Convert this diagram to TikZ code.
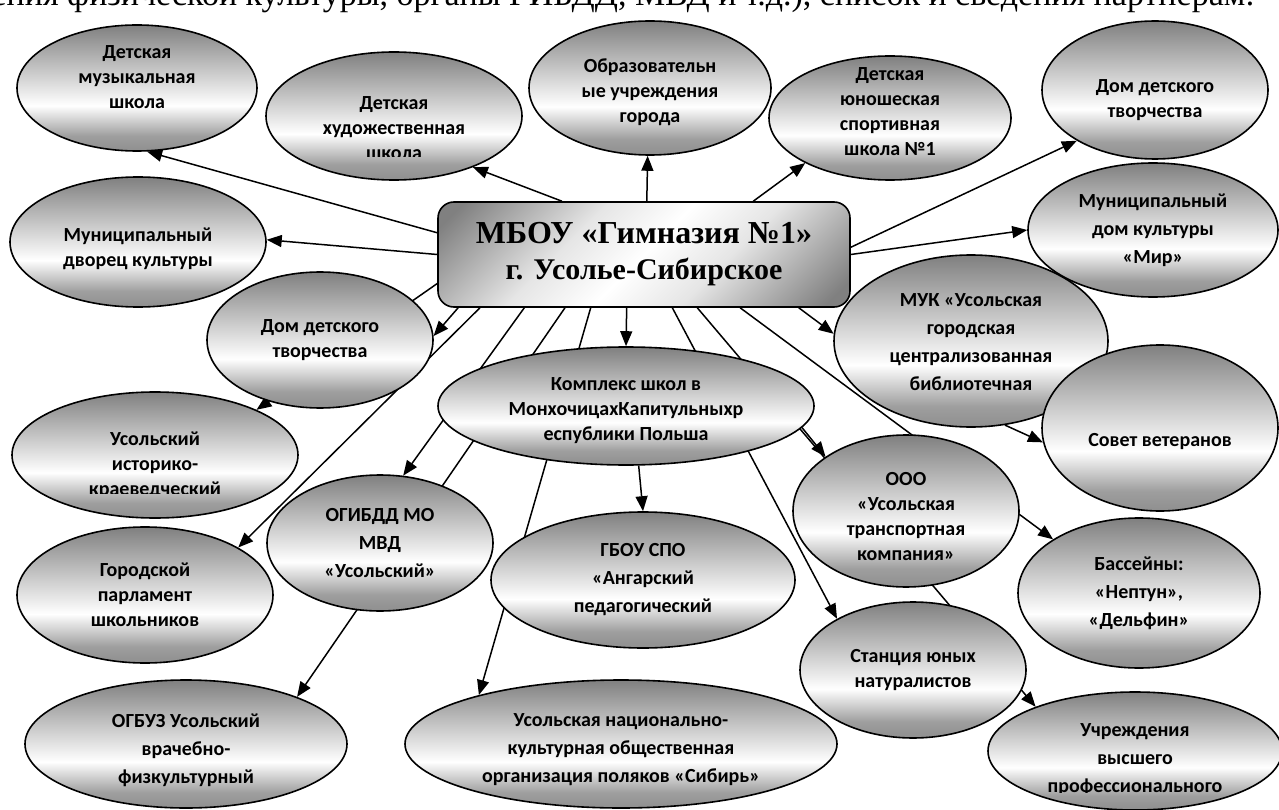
\documentclass[tikz,border=0pt]{standalone}
\usepackage{fontspec}
\setmainfont{Carlito}
\newfontfamily\timesfont{Liberation Serif}
\usetikzlibrary{arrows.meta,shapes.geometric,backgrounds}

\definecolor{shadedark}{gray}{0.50}
\definecolor{shademid}{gray}{0.62}
\definecolor{shadelow}{gray}{0.56}
\definecolor{shadepale}{gray}{0.90}
\pgfdeclareverticalshading{bubbleshade}{100bp}{color(0bp)=(shadelow); color(25bp)=(shadelow); color(31bp)=(shademid); color(43bp)=(white); color(75bp)=(shadedark); color(100bp)=(shadedark)}
\pgfdeclareverticalshading{boxshade}{100bp}{color(0bp)=(shadedark); color(18bp)=(shadedark); color(38bp)=(shadepale); color(50bp)=(white); color(62bp)=(shadepale); color(82bp)=(shadedark); color(100bp)=(shadedark)}

\begin{document}
\begin{tikzpicture}[x=1pt,y=-1pt]
  \tikzset{
    partner/.style={
      ellipse,
      draw=black,
      line width=1.6pt,
      shade,
      shading=bubbleshade,
      inner sep=0pt,
      align=center,
      font=\bfseries\fontsize{20}{25}\selectfont
    },
    loose/.style={font=\bfseries\fontsize{20}{28}\selectfont},
    bare/.style={inner sep=0pt, align=center, font=\bfseries\fontsize{20}{25}\selectfont},
    gymn/.style={
      rectangle,
      rounded corners=16pt,
      draw=black,
      line width=1.6pt,
      shade,
      shading=boxshade,
      shading angle=45,
      minimum width=412pt,
      minimum height=105pt,
      align=center,
      font=\timesfont\bfseries\fontsize{32}{36}\selectfont
    },
    link/.style={line width=1.5pt, -{Triangle[length=15pt,width=12pt]}}
  }

  \useasboundingbox (0,0) rectangle (1279,810);

  \node[anchor=base east, inner sep=0pt, font=\timesfont\fontsize{34}{34}\selectfont] (intro) at (1255,6)
    {учреждения физической культуры, органы ГИБДД, МВД и т.д.), список и сведения партнерам:};

  \node[gymn] (gym) at (644,254.5)
    {МБОУ «Гимназия №1»\\{\fontsize{30}{36}\selectfont г. Усолье-Сибирское}};

  \node[partner, minimum width=240pt, minimum height=126pt] (music) at (137,88) {};
  \node[bare] (music-t) at (137,77) {Детская\\музыкальная\\школа};
  \node[partner, minimum width=256pt, minimum height=128pt] (art) at (394,116) {};
  \node[partner, minimum width=242pt, minimum height=134pt] (edu) at (650,88) {};
  \node[bare] (edu-t) at (650,92) {Образовательн\\ые учреждения\\города};
  \node[partner, minimum width=242pt, minimum height=124pt] (sport) at (890,118) {};
  \node[bare] (sport-t) at (890,112) {Детская\\юношеская\\спортивная\\школа №1};
  \node[partner, minimum width=226pt, minimum height=138pt] (ddtR) at (1155,90) {};
  \node[bare] (ddtR-t) at (1155,100) {Дом детского\\творчества};
  \node[partner, loose, minimum width=250pt, minimum height=134pt] (mir) at (1153,230) {Муниципальный\\дом культуры\\«Мир»};
  \node[partner, minimum width=256pt, minimum height=130pt] (palace) at (138,242) {};
  \node[bare] (palace-t) at (138,249) {Муниципальный\\дворец культуры};
  \node[partner, minimum width=226pt, minimum height=136pt] (ddtL) at (320,340) {Дом детского\\творчества};
  \node[partner, minimum width=274pt, minimum height=172pt] (muk) at (971,341) {};
  \node[partner, minimum width=236pt, minimum height=166pt] (veterans) at (1160,428) {};
  \node[bare] (veterans-t) at (1160,442) {Совет ветеранов};
  \node[partner, minimum width=286pt, minimum height=126pt] (museum) at (155,455) {};
  \node[partner, minimum width=376pt, minimum height=118pt] (kompl) at (626,406) {};
  \node[bare] (kompl-t) at (626,411) {Комплекс школ в\\МонхочицахКапитульныхр\\еспублики Польша};
  \node[partner, loose, minimum width=226pt, minimum height=136pt] (gibdd) at (380,543) {ОГИБДД МО\\МВД\\«Усольский»};
  \node[partner, minimum width=256pt, minimum height=136pt] (parl) at (145,595) {Городской\\парламент\\школьников};
  \node[partner, loose, minimum width=304pt, minimum height=136pt] (ped) at (643,580) {ГБОУ СПО\\«Ангарский\\педагогический};
  \node[partner, minimum width=226pt, minimum height=152pt] (ooo) at (906,511) {};
  \node[bare] (ooo-t) at (906,517) {ООО\\«Усольская\\транспортная\\компания»};
  \node[partner, loose, minimum width=242pt, minimum height=150pt] (pool) at (1139,593) {Бассейны:\\«Нептун»,\\«Дельфин»};
  \node[partner, minimum width=226pt, minimum height=136pt] (nat) at (913,670) {Станция юных\\натуралистов};
  \node[partner, minimum width=322pt, minimum height=128pt] (ogbuz) at (186,744) {};
  \node[bare, loose] (ogbuz-t) at (186,750) {ОГБУЗ Усольский\\врачебно-\\физкультурный};
  \node[partner, minimum width=432pt, minimum height=128pt] (polish) at (621,744) {};
  \node[bare, loose] (polish-t) at (621,750) {Усольская национально-\\культурная общественная\\организация поляков «Сибирь»};
  \node[partner, minimum width=294pt, minimum height=118pt] (higher) at (1135,751) {};

  % texts cut by the frame
  \begin{scope}
    \clip (266,40) rectangle (522,157);
    \node[bare] (art-t) at (394,128) {Детская\\художественная\\школа};
  \end{scope}
  \begin{scope}
    \clip (12,380) rectangle (298,493);
    \node[bare] (museum-t) at (155,465) {Усольский\\историко-\\краеведческий};
  \end{scope}
  \begin{scope}
    \clip (834,250) rectangle (1108,403);
    \node[bare, loose] (muk-t) at (971,356) {МУК «Усольская\\городская\\централизованная\\библиотечная\\система};
  \end{scope}
  \begin{scope}
    \clip (988,690) rectangle (1279,792);
    \node[bare, loose] (higher-t) at (1135,760) {Учреждения\\высшего\\профессионального};
  \end{scope}

  \begin{scope}[on background layer]
    \draw[link] (gym.174) -- (music.-81);
    \draw[link] (gym.147) -- (art.-33);
    \draw[link] (gym.87) -- (edu.-92);
    \draw[link] (gym.26) -- (sport.-152);
    \draw[link] (gym.2) -- (ddtR.-147);
    \draw[link] (gym.0) -- (mir.180);
    \draw[link] (gym.180) -- (palace.1);
    \draw[link] (gym.-164) -- (ddtL.2);
    \draw[link] (gym.-172) -- (museum.24);
    \draw[link] (gym.-162) -- (parl.27);
    \draw[link] (gym.-156) -- (gibdd.71);
    \draw[link] (gym.-146) -- (ogbuz.23);
    \draw[link] (gym.-135) -- (polish.161);
    \draw[link] (gym.-108) -- (kompl.90);
    \draw[link] (gym.-62) -- (nat.146);
    \draw[link] (gym.-45) -- (higher.156);
    \draw[link] (gym.-29) -- (pool.148);
    \draw[link] (gym.-19) -- (muk.177);
    \draw[link] (muk.-68) -- (veterans.-173);
    \draw[link] (kompl.-7) -- (ooo.146);
    \draw[link] (kompl.-78) -- (ped.90);
  \end{scope}
\end{tikzpicture}
\end{document}
